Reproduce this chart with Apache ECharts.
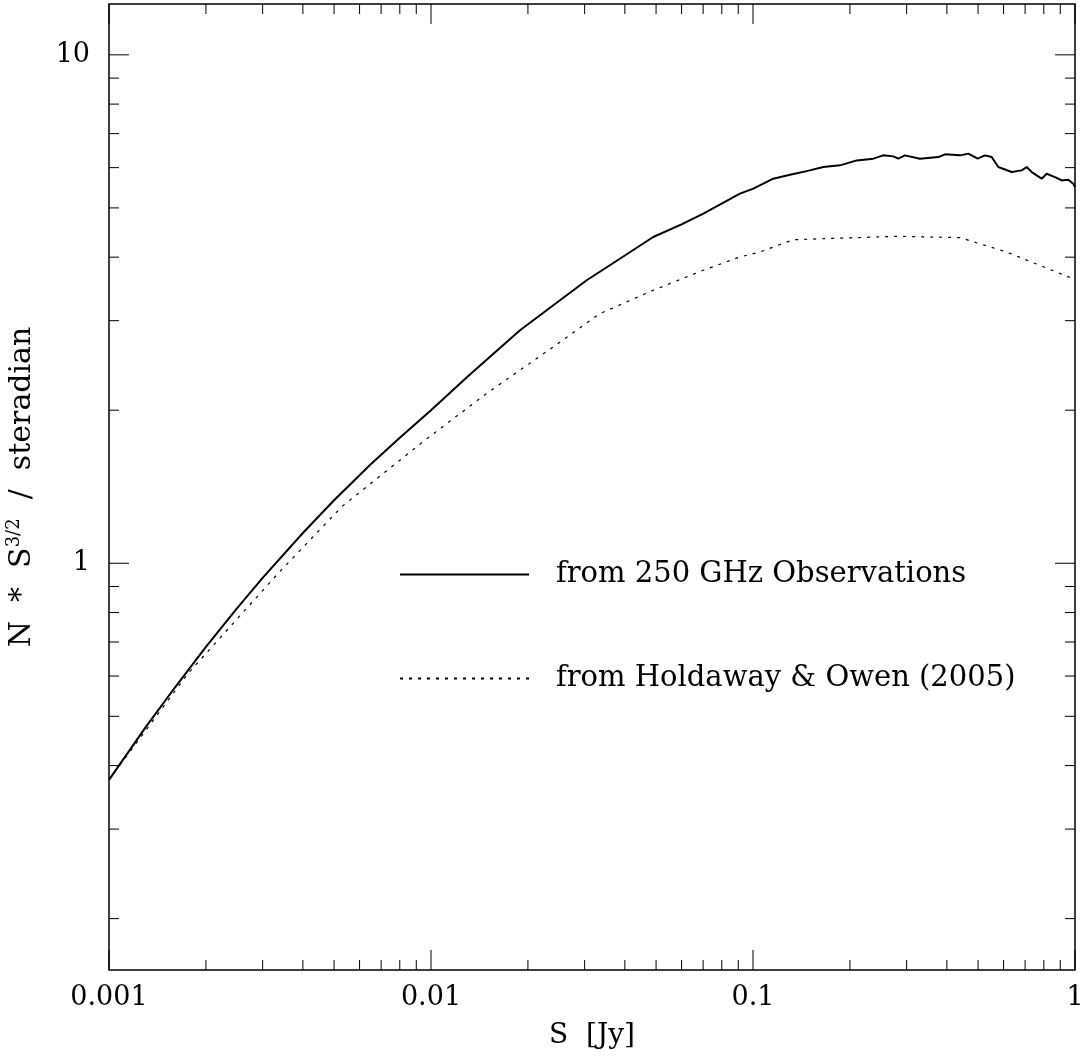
<!DOCTYPE html>
<html>
<head>
<meta charset="utf-8">
<script src="https://cdn.jsdelivr.net/npm/echarts@6/dist/echarts.min.js"></script>
<style>
html, body { margin: 0; padding: 0; background: #fff; }
#chart { width: 1083px; height: 1059px; }
</style>
</head>
<body>
<div id="chart"></div>
<script>
var obsS = [0.001, 0.0013, 0.0016, 0.002, 0.0025, 0.003, 0.004, 0.005, 0.0065, 0.008, 0.01, 0.013, 0.0189, 0.0245, 0.03045, 0.04, 0.049, 0.06, 0.0701, 0.0911,
    0.1002, 0.1156, 0.1303, 0.1468, 0.1653, 0.1863, 0.21, 0.2364, 0.2539, 0.2727, 0.2826, 0.2965, 0.33, 0.3763, 0.3948, 0.4394, 0.4663, 0.4986,
    0.5254, 0.5511, 0.5778, 0.6359, 0.683, 0.7079, 0.7337, 0.7879, 0.8168, 0.8667, 0.9094, 0.9533, 0.9879, 1.0];
var obsN = [0.375, 0.476, 0.569, 0.685, 0.816, 0.936, 1.147, 1.33, 1.566, 1.766, 2.0, 2.33, 2.873, 3.25, 3.603, 4.03, 4.382, 4.64, 4.871, 5.333,
    5.455, 5.707, 5.81, 5.906, 6.016, 6.062, 6.2, 6.249, 6.343, 6.314, 6.249, 6.343, 6.249, 6.294, 6.372, 6.343, 6.393, 6.249,
    6.343, 6.294, 6.016, 5.881, 5.926, 6.016, 5.881, 5.707, 5.837, 5.748, 5.662, 5.68, 5.579, 5.494];

// Holdaway & Owen (2005)
var hoS = [0.001, 0.001763, 0.003356, 0.005281, 0.009581, 0.01489, 0.02398, 0.03348, 0.049, 0.0701, 0.0911, 0.1051, 0.1334, 0.2795, 0.4394, 0.6136, 1.0];
var hoN = [0.375, 0.608, 0.956, 1.292, 1.747, 2.158, 2.665, 3.098, 3.443, 3.77, 4.004, 4.095, 4.329, 4.396, 4.37, 4.095, 3.614];

var seriesNames = ['from 250 GHz Observations', 'from Holdaway & Owen (2005)'];

// 坐标轴
var xMin = 0.001, xMax = 1;
var yMin = Math.pow(10, -0.8), yMax = Math.pow(10, 1.1);
var xTickValues = [0.001, 0.01, 0.1, 1];
var xTickLabels = ['0.001', '0.01', '0.1', '1'];
var yTickValues = [0.1, 1, 10];
var yTickLabels = ['', '1', '10'];
var minorSteps = [2, 3, 4, 5, 6, 7, 8, 9];

var FONT = 'DejaVu Serif';

function pairs(xs, ys) {
    var res = [];
    for (var i = 0; i < xs.length; i++) res.push([xs[i], ys[i]]);
    return res;
}

function labelFor(v, values, labels) {
    for (var i = 0; i < values.length; i++) {
        if (Math.abs(Math.log10(v) - Math.log10(values[i])) < 1e-6) return labels[i];
    }
    return '';
}

// 刻度: 主刻度 + 次刻度, 四边都画
var ticks = [];
xTickValues.forEach(function (v) { ticks.push({ dir: 'x', v: v, major: true }); });
for (var d = 0.001; d < 1; d *= 10) {
    minorSteps.forEach(function (m) { ticks.push({ dir: 'x', v: d * m, major: false }); });
}
yTickValues.forEach(function (v) { if (v >= yMin && v <= yMax) ticks.push({ dir: 'y', v: v, major: true }); });
[0.1, 1, 10].forEach(function (d) {
    minorSteps.forEach(function (m) {
        var v = d * m;
        if (v > yMin && v < yMax) ticks.push({ dir: 'y', v: v, major: false });
    });
});

function renderTick(params, api) {
    var t = ticks[params.dataIndex];
    var len = t.major ? 20 : 10;
    var st = { stroke: '#000', lineWidth: 1 };
    var a, b;
    if (t.dir === 'x') {
        a = api.coord([t.v, yMin]);
        b = api.coord([t.v, yMax]);
        return {
            type: 'group', children: [
                { type: 'line', shape: { x1: a[0], y1: a[1], x2: a[0], y2: a[1] - len }, style: st },
                { type: 'line', shape: { x1: b[0], y1: b[1], x2: b[0], y2: b[1] + len }, style: st }
            ]
        };
    }
    a = api.coord([xMin, t.v]);
    b = api.coord([xMax, t.v]);
    return {
        type: 'group', children: [
            { type: 'line', shape: { x1: a[0], y1: a[1], x2: a[0] + len, y2: a[1] }, style: st },
            { type: 'line', shape: { x1: b[0], y1: b[1], x2: b[0] - len, y2: b[1] }, style: st }
        ]
    };
}

var chart = echarts.init(document.getElementById('chart'));

var option = {
    backgroundColor: '#fff',
    animation: false,
    grid: {
        left: 109, top: 4, width: 966, height: 966,
        outerBoundsMode: 'none',
        containLabel: false,
        show: true, borderColor: '#000', borderWidth: 1.5
    },
    legend: {
        data: seriesNames,
        orient: 'vertical',
        left: 399,
        top: 560,
        padding: 0,
        itemWidth: 129,
        itemHeight: 14,
        itemGap: 75,
        itemStyle: { opacity: 0 },
        formatter: '{gap|}{txt|{name}}',
        textStyle: {
            fontFamily: FONT, fontSize: 29, color: '#000',
            rich: {
                gap: { width: 22 },
                txt: { fontFamily: FONT, fontSize: 29, color: '#000', lineHeight: 30 }
            }
        }
    },
    xAxis: {
        type: 'log',
        logBase: 10,
        min: xMin,
        max: xMax,
        name: 'S  [Jy]',
        nameLocation: 'middle',
        nameGap: 52,
        nameTextStyle: { fontFamily: FONT, fontSize: 28, color: '#000' },
        axisLine: { show: false },
        axisTick: { show: false },
        splitLine: { show: false },
        axisLabel: {
            margin: 14,
            fontFamily: FONT, fontSize: 27, color: '#000',
            formatter: function (v) { return labelFor(v, xTickValues, xTickLabels); }
        }
    },
    yAxis: {
        type: 'log',
        logBase: 10,
        min: yMin,
        max: yMax,
        name: 'N  *  S{sup|3/2}  /  steradian',
        nameLocation: 'middle',
        nameRotate: 90,
        nameGap: 70,
        nameTextStyle: {
            fontFamily: FONT, fontSize: 30, color: '#000',
            rich: {
                sup: { fontFamily: FONT, fontSize: 18, color: '#000', verticalAlign: 'top', lineHeight: 34 }
            }
        },
        axisLine: { show: false },
        axisTick: { show: false },
        splitLine: { show: false },
        axisLabel: {
            margin: 19,
            fontFamily: FONT, fontSize: 27, color: '#000',
            formatter: function (v) { return labelFor(v, yTickValues, yTickLabels); }
        }
    },
    series: [
        {
            name: seriesNames[0],
            type: 'line',
            data: pairs(obsS, obsN),
            symbol: 'none',
            lineStyle: { color: '#000', width: 2 },
            itemStyle: { color: '#000' },
            z: 3
        },
        {
            name: seriesNames[1],
            type: 'line',
            data: pairs(hoS, hoN),
            symbol: 'none',
            lineStyle: { color: '#000', width: 1.2, type: [3, 6] },
            itemStyle: { color: '#000' },
            z: 3
        },
        {
            name: 'ticks',
            type: 'custom',
            silent: true,
            clip: false,
            renderItem: renderTick,
            data: ticks.map(function (t) { return t.dir === 'x' ? [t.v, yMin] : [xMin, t.v]; }),
            z: 4
        }
    ]
};

chart.setOption(option);
</script>
</body>
</html>
